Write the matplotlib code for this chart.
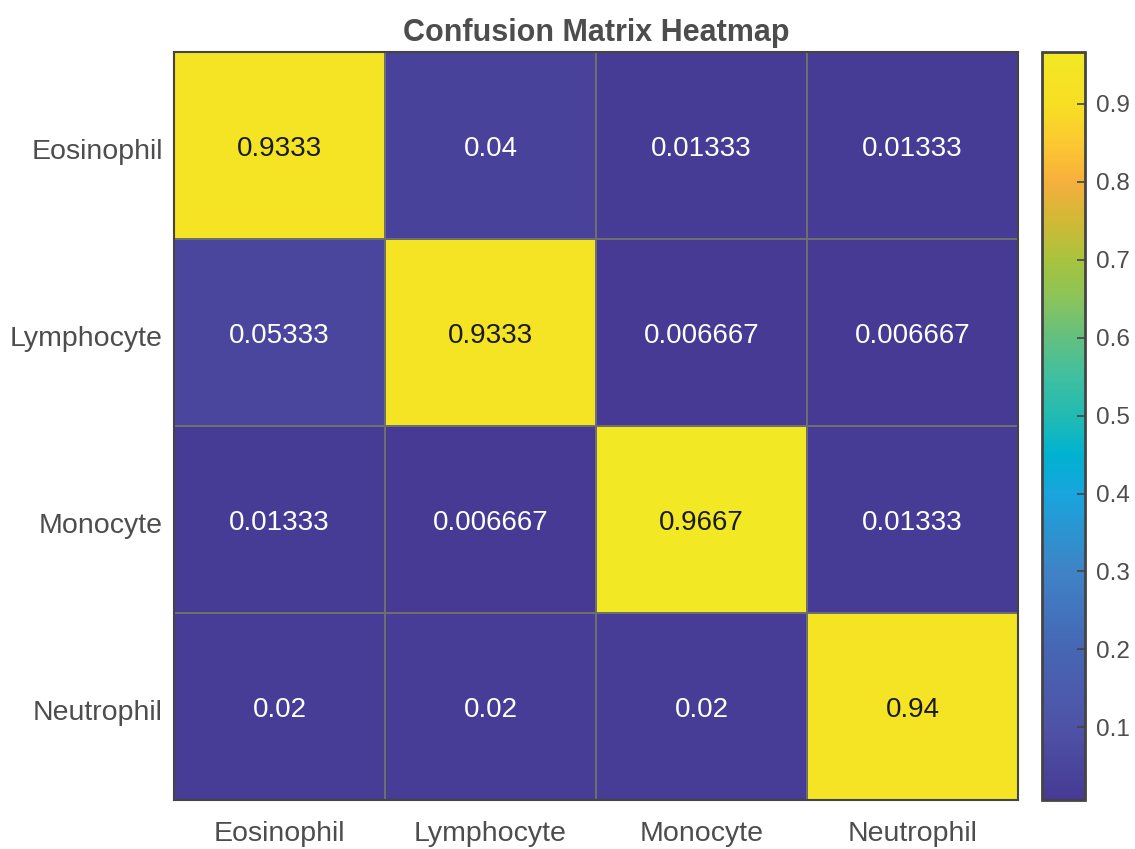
import numpy as np
import matplotlib
matplotlib.use("Agg")
import matplotlib.pyplot as plt
from matplotlib.colors import LinearSegmentedColormap, Normalize

plt.rcParams['font.family'] = ['Liberation Sans', 'DejaVu Sans']

# Confusion matrix (rows = true class, cols = predicted class)
classes = ["Eosinophil", "Lymphocyte", "Monocyte", "Neutrophil"]
row_eos = [0.9333, 0.04, 0.01333, 0.01333]
row_lym = [0.05333, 0.9333, 0.006667, 0.006667]
row_mon = [0.01333, 0.006667, 0.9667, 0.01333]
row_neu = [0.02, 0.02, 0.02, 0.94]
cbar_ticks = [0.1, 0.2, 0.3, 0.4, 0.5, 0.6, 0.7, 0.8, 0.9]

cm = np.array([row_eos, row_lym, row_mon, row_neu])
vmin, vmax = cm.min(), cm.max()

# parula-like map, anchors picked off the reference colorbar
anchors = [
    (0.0067, '#463a94'), (0.10, '#4f53a8'), (0.20, '#4666b4'),
    (0.30, '#3f83c6'), (0.40, '#18a5dd'), (0.45, '#00b2d2'),
    (0.50, '#22bbb2'), (0.55, '#3fbfa0'), (0.60, '#62c080'),
    (0.65, '#8ac45a'), (0.70, '#a8c33e'), (0.75, '#d0b935'),
    (0.80, '#f6af3d'), (0.85, '#fcc831'), (0.90, '#f7df24'),
    (0.9667, '#f2e823'),
]
pos = [(v - anchors[0][0]) / (anchors[-1][0] - anchors[0][0]) for v, _ in anchors]
parula = LinearSegmentedColormap.from_list('parula_like', list(zip(pos, [c for _, c in anchors])))
norm = Normalize(vmin=vmin, vmax=vmax)

fig = plt.figure(figsize=(11.35, 8.49), dpi=100)
ax = fig.add_axes([0.1533, 0.0577, 0.7436, 0.8811])
cax = fig.add_axes([0.9181, 0.0577, 0.0379, 0.8811])

mesh = ax.pcolormesh(np.arange(5), np.arange(5), cm, cmap=parula, norm=norm,
                     edgecolors='#6e6e6e', linewidth=1.3)
ax.set_xlim(0, 4)
ax.set_ylim(4, 0)

txt_col = '#4d4d4d'
for i in range(4):
    for j in range(4):
        v = cm[i, j]
        col = '#1a1a1a' if v > 0.5 else 'white'
        ax.text(j + 0.5, i + 0.52, f"{v:.4g}", ha='center', va='center',
                fontsize=20, color=col)

ax.set_xticks(np.arange(4) + 0.5)
ax.set_yticks(np.arange(4) + 0.52)
ax.set_xticklabels(classes, fontsize=20.5, color=txt_col)
ax.set_yticklabels(classes, fontsize=20.5, color=txt_col)
ax.tick_params(axis='x', length=0, pad=15)
ax.tick_params(axis='y', length=0, pad=8)
for s in ax.spines.values():
    s.set_color('#444444')
    s.set_linewidth(1.5)

ax.set_title("Confusion Matrix Heatmap", fontsize=22, fontweight='bold',
             color=txt_col, pad=8)

cb = fig.colorbar(mesh, cax=cax)
cb.set_ticks(cbar_ticks)
cb.set_ticklabels([f"{t:g}" for t in cbar_ticks])
cax.tick_params(direction='in', length=6, width=1.2, color='#444444',
                labelsize=17.5, labelcolor=txt_col, pad=8)
cb.outline.set_edgecolor('#444444')
cb.outline.set_linewidth(2)

fig.savefig("out.png", dpi=100)
